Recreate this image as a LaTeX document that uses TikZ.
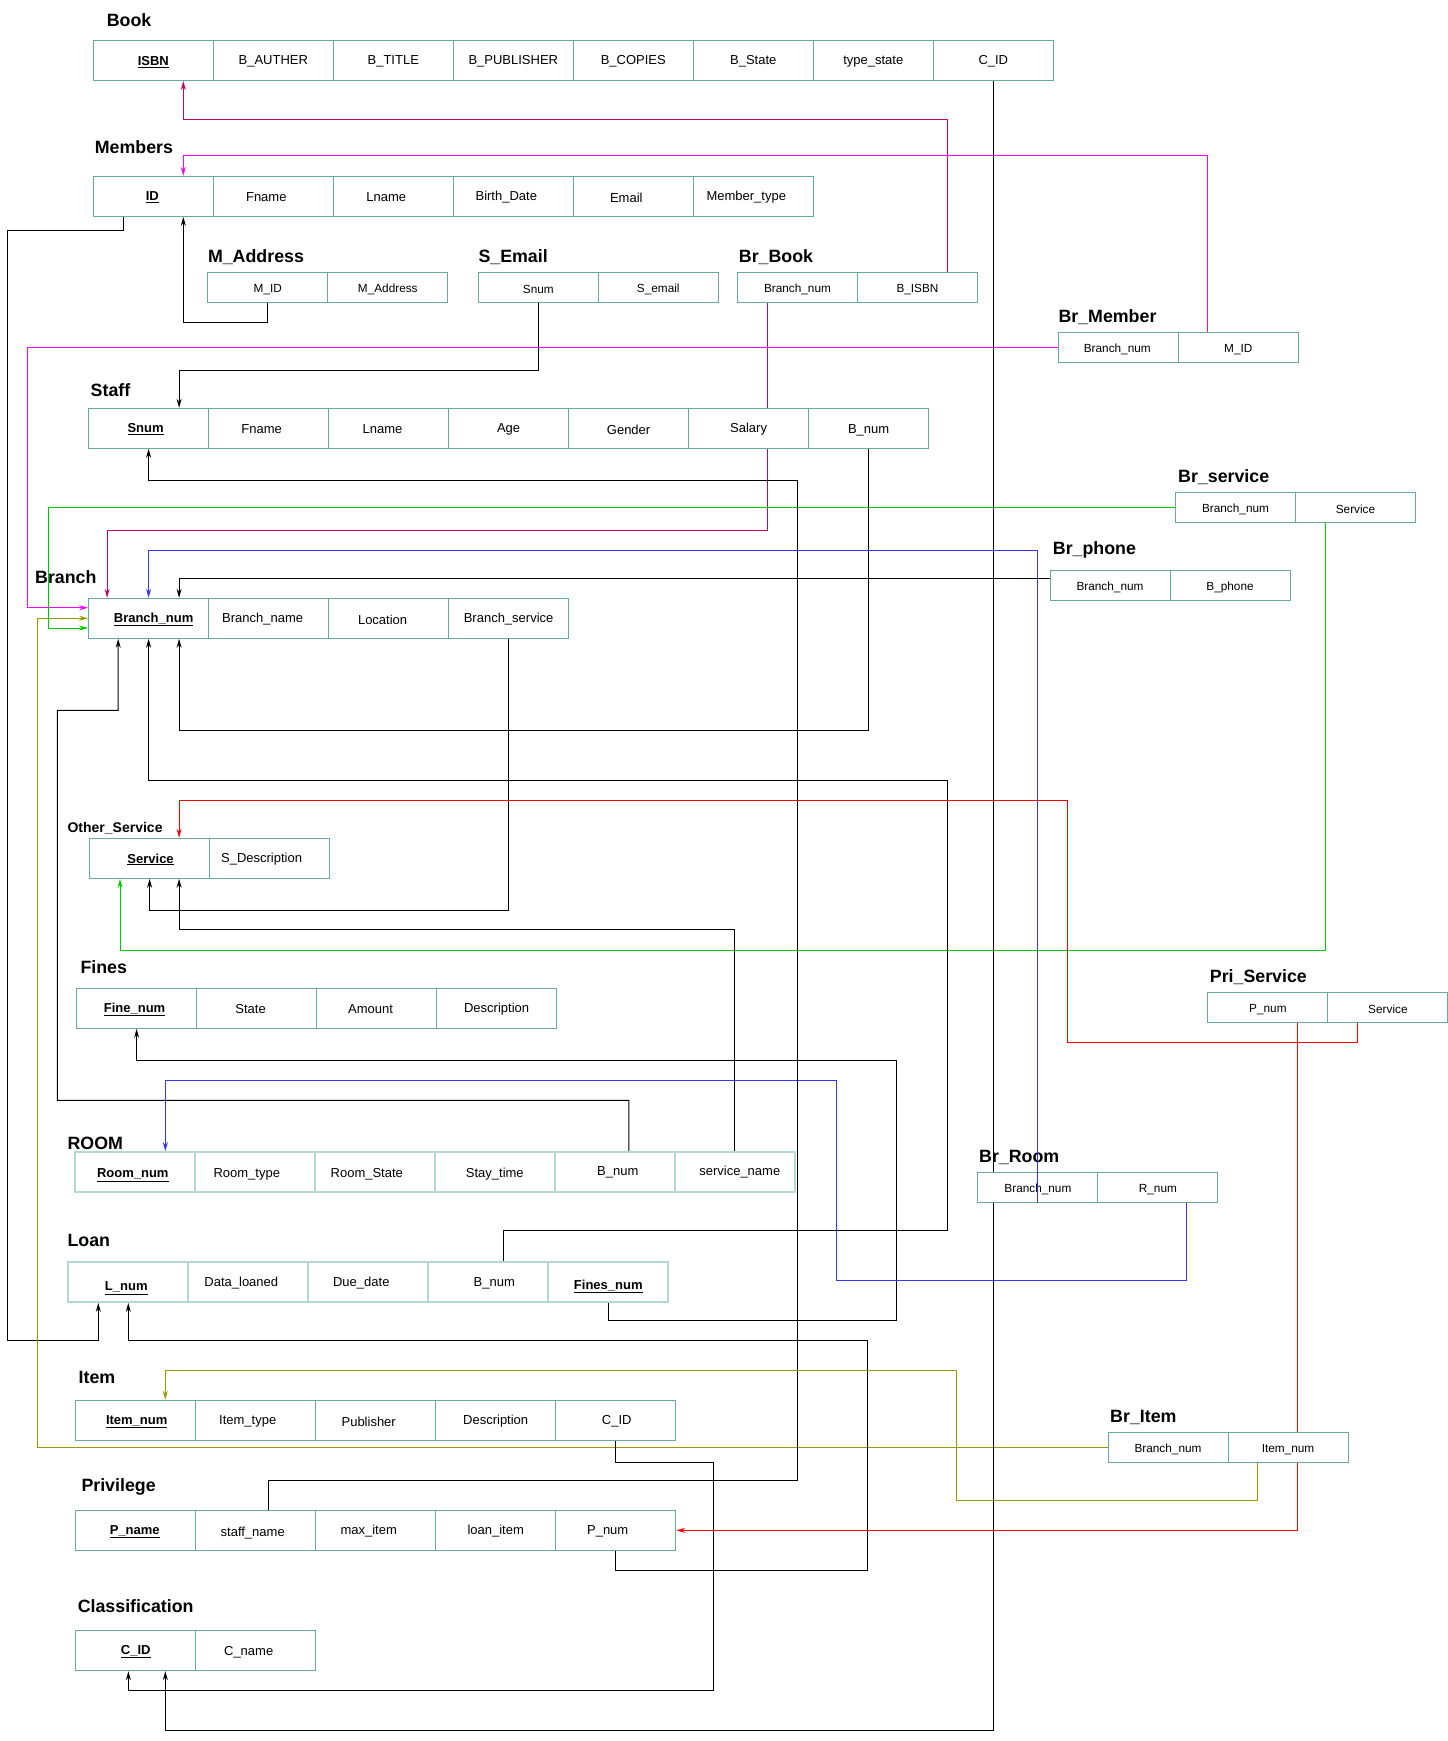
\documentclass[tikz,border=0pt]{standalone}
\usepackage{fontspec}
\setmainfont{Liberation Sans}
\usetikzlibrary{arrows.meta}
\definecolor{tealc}{HTML}{67AB9F}
\definecolor{palec}{HTML}{B3D9D1}
\definecolor{crimsonc}{HTML}{CC0066}
\definecolor{magentac}{HTML}{FF00FF}
\definecolor{greenc}{HTML}{00CC00}
\definecolor{bluec}{HTML}{3333FF}
\definecolor{redc}{HTML}{FF0000}
\definecolor{olivec}{HTML}{999900}
\pgfdeclarelayer{bg}
\pgfsetlayers{bg,main}
\newcommand{\pk}[1]{\textbf{\underline{#1}}}
% one row of cells: prefix, left x, centre y, style, text/dx/dy
\newcommand{\ertable}[5]{%
  \foreach \txt/\dx/\dy [count=\i] in {#5} {
    \node[#4] (#1\i) at ({#2+120*\i-60},#3) {};
    \node[#4 txt] (#1\i-t) at ([shift={(\dx,\dy)}]#1\i.center) {\txt};
  }
}

\begin{document}
\begin{tikzpicture}[x=1pt,y=-1pt,
    cell/.style={draw=tealc,fill=white,line width=1pt,minimum width=120,minimum height=40,inner sep=0pt},
    cell txt/.style={inner sep=0pt,yshift=-1.2pt,font=\fontsize{13}{15}\selectfont},
    small/.style={cell,minimum height=30},
    small txt/.style={inner sep=0pt,yshift=-2.2pt,font=\fontsize{11.8}{14}\selectfont},
    pale/.style={cell,draw=palec,line width=1.8pt},
    pale txt/.style={cell txt},
    title/.style={anchor=west,inner sep=0pt,font=\bfseries\fontsize{17.8}{20}\selectfont},
    link/.style={line width=1pt,-{Stealth[length=9pt,width=5pt]}}]
  \useasboundingbox (0,0) rectangle (1448,1741);

  % tables
  \node[title] (t-book) at (106.6,20) {Book};
  \ertable{book}{93.3}{60.5}{cell}{\pk{ISBN}/0/0,B\_AUTHER/0/0,B\_TITLE/0/0,B\_PUBLISHER/0/0,B\_COPIES/0/0,B\_State/0/0,type\_state/0/0,C\_ID/0/0}
  \node[title] (t-mem) at (94.7,146.7) {Members};
  \ertable{mem}{93.3}{196.3}{cell}{\pk{ID}/-1/0,Fname/-7/0,Lname/-7/0,Birth\_Date/-7/0,Email/-7/0,Member\_type/-7/0}
  \node[title] (t-madr) at (207.8,257.3) {M\_Address};
  \ertable{madr}{207.8}{287.3}{small}{M\_ID/0/0,M\_Address/0/0}
  \node[title] (t-semail) at (478.3,257.3) {S\_Email};
  \ertable{semail}{478.3}{287.3}{small}{Snum/0/0,S\_email/0/0}
  \node[title] (t-brbook) at (738.7,257.3) {Br\_Book};
  \ertable{brbook}{737.5}{287.3}{small}{Branch\_num/0/0,B\_ISBN/0/0}
  \node[title] (t-brmem) at (1058.3,317.3) {Br\_Member};
  \ertable{brmem}{1058.3}{347.3}{small}{Branch\_num/-1/0,M\_ID/0/0}
  \node[title] (t-staff) at (90.5,390) {Staff};
  \ertable{staff}{88.6}{428.3}{cell}{\pk{Snum}/-3/0,Fname/-7/0,Lname/-6/0,Age/0/0,Gender/0/0,Salary/0/0,B\_num/0/1}
  \node[title] (t-brserv) at (1178,477.3) {Br\_service};
  \ertable{brserv}{1175.5}{507.3}{small}{Branch\_num/0/0,Service/0/0}
  \node[title] (t-brphone) at (1052.7,550) {Br\_phone};
  \ertable{brphone}{1050}{585.5}{small}{Branch\_num/0/0,B\_phone/0/0}
  \node[title] (t-branch) at (35,577.3) {Branch};
  \ertable{branch}{88.6}{618.3}{cell}{\pk{Branch\_num}/5/0,Branch\_name/-6/0,Location/-6/0,Branch\_service/0/0}
  \node[title,font=\bfseries\fontsize{14}{16}\selectfont] (t-oserv) at (67.4,828.3) {Other\_Service};
  \ertable{oserv}{89.6}{858.3}{cell}{\pk{Service}/1/0,S\_Description/-8/0}
  \node[title] (t-fines) at (80.3,966.7) {Fines};
  \ertable{fines}{76.6}{1008.3}{cell}{\pk{Fine\_num}/-2/0,State/-6/0,Amount/-6/0,Description/0/0}
  \node[title] (t-priserv) at (1209.7,977.3) {Pri\_Service};
  \ertable{priserv}{1207.9}{1007.3}{small}{P\_num/0/0,Service/0/0}
  \node[title] (t-room) at (67.4,1143.3) {ROOM};
  \ertable{room}{74.8}{1172}{pale}{\pk{Room\_num}/-2/2,Room\_type/-8/1,Room\_State/-8/1,Stay\_time/0/1,B\_num/3/-1,service\_name/5/-1}
  \node[title] (t-brroom) at (979,1157.3) {Br\_Room};
  \ertable{brroom}{977.9}{1187.3}{small}{Branch\_num/0/0,R\_num/0/0}
  \node[title] (t-loan) at (67.4,1240.3) {Loan};
  \ertable{loan}{68.3}{1282}{pale}{\pk{L\_num}/-2/5,Data\_loaned/-7/0,Due\_date/-7/0,B\_num/6/0,\pk{Fines\_num}/0/3}
  \node[title] (t-item) at (78.5,1377.3) {Item};
  \ertable{item}{75.7}{1420.3}{cell}{\pk{Item\_num}/1/0,Item\_type/-8/0,Publisher/-7/0,Description/0/0,C\_ID/1/0}
  \node[title] (t-britem) at (1110,1417.3) {Br\_Item};
  \ertable{britem}{1108}{1447.3}{small}{Branch\_num/0/0,Item\_num/0/0}
  \node[title] (t-priv) at (81.3,1487) {Privilege};
  \ertable{priv}{75.7}{1530.3}{cell}{\pk{P\_name}/-1/0,staff\_name/-3/2,max\_item/-7/0,loan\_item/0/0,P\_num/-8/0}
  \node[title] (t-class) at (77.6,1606) {Classification};
  \ertable{class}{75.7}{1650.7}{cell}{\pk{C\_ID}/0/0,C\_name/-7/0}

  % connectors
  \begin{pgfonlayer}{bg}
    \draw[link,crimsonc] ([xshift=30]brbook2.north) -- ++(0,-152) -| ([xshift=30]book1.south);
    \draw[link,magentac] ([xshift=-31]brmem2.north) -- ++(0,-176.3) -| ([xshift=30]mem1.north);
    \draw[link] ([xshift=-30]mem1.south) -- ++(0,14) -| (7.5,1340) -| ([xshift=-30]loan1.south);
    \draw[link] (madr1.south) -- ++(0,20) -| ([xshift=30]mem1.south);
    \draw[link] (semail1.south) -- ++(0,68) -| ([xshift=30.5]staff1.north);
    \draw[link,crimsonc] ([xshift=-30]brbook1.south) -- ++(0,228) -| ([xshift=-41.5]branch1.north);
    \draw[link,magentac] (brmem1.west) -| (27.7,607.7) -- ([yshift=10.6]branch1.west);
    \draw[link,greenc] (brserv1.west) -| (48,628) -- ([yshift=-9.7]branch1.west);
    \draw[link,olivec] (britem1.west) -| (37,618.3) -- (branch1.west);
    \draw[link] ([yshift=7.5]brphone1.west) -| ([xshift=30.5]branch1.north);
    \draw[link,greenc] ([xshift=-29.6]brserv2.south) -- ++(0,427.7) -| ([xshift=-29.6]oserv1.south);
    \draw[link] (staff7.south) -- ++(0,282) -| ([xshift=30.5]branch1.south);
    \draw[link] ([xshift=14]room5.north) |- (57.3,1100.3) |- (118.2,710.3) -- ([xshift=-30.4]branch1.south);
    \draw[link] ([xshift=15]loan4.north) |- (947.5,1230.3) |- (148.6,780.3) -- (branch1.south);
    \draw[link] (branch4.south) -- ++(0,272) -| (oserv1.south);
    \draw[link] (room6.north) -- ++(0,-221.4) -| ([xshift=29.5]oserv1.south);
    \draw[link,redc] ([xshift=-30.5]priserv2.south) |- (1067.5,1042.3) |- (179.1,800.3) -- ([xshift=29.5]oserv1.north);
    \draw[link,redc] ([xshift=29.6]priserv1.south) |- (priv5.east);
    \draw[link] (loan5.south) |- (896.7,1320.3) |- (136.6,1060.5) -- (fines1.south);
    \draw[link,bluec] ([xshift=28.8]brroom2.south) |- (836.7,1280.3) |- (165.3,1080.3) -- ([xshift=30.5]room1.north);
    \draw[link] (priv5.south) |- (867.1,1570.3) |- (128.3,1340) -- (loan1.south);
    \draw[link] ([xshift=13]priv2.north) |- (797,1480.3) |- (148.6,480.3) -- (staff1.south);
    \draw[link] (item5.south) |- (713.8,1462.3) |- (128.4,1690.3) -- ([xshift=-7.3]class1.south);
    \draw[link] (book8.south) |- (165.3,1730) -- ([xshift=29.6]class1.south);
    \draw[link,olivec] ([xshift=-30.5]britem2.south) |- (956.7,1500.3) |- (165.3,1370.3) -- ([xshift=29.6]item1.north);
  \end{pgfonlayer}
  \draw[link,bluec] (brroom1.south) -- ++(0,-652) -| (branch1.north);
\end{tikzpicture}
\end{document}
